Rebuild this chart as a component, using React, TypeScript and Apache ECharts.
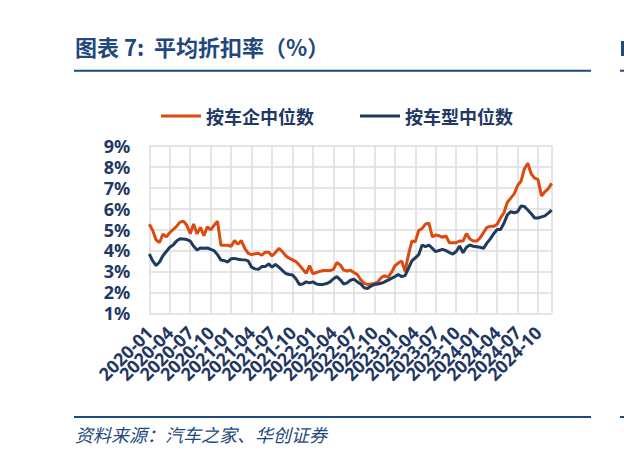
import React, { useEffect, useRef } from "react";
import * as echarts from "echarts";

const years = [2020, 2021, 2022, 2023, 2024];
const halfMonthDays = ["01", "16"];
const pointCount = 119;

const seriesNames = ["按车企中位数", "按车型中位数"];

const byMaker = [
  5.25, 4.95, 4.5, 4.38, 4.78, 4.65, 4.85, 5.0, 5.15, 5.35,
  5.4, 5.2, 4.8, 5.26, 4.8, 5.1, 4.7, 5.13, 4.98, 5.2,
  5.39, 4.25, 4.25, 4.25, 4.2, 4.47, 4.3, 4.47, 4.1, 3.86,
  3.8, 3.84, 3.86, 3.77, 3.92, 3.92, 3.74, 3.9, 4.1, 3.95,
  3.75, 3.63, 3.55, 3.47, 3.3, 3.1, 2.91, 3.28, 2.88, 2.95,
  3.0, 3.04, 3.04, 3.04, 3.1, 3.42, 3.31, 3.06, 3.02, 3.06,
  2.95, 2.85, 2.6, 2.43, 2.38, 2.4, 2.42, 2.5, 2.7, 2.8,
  2.72, 2.95, 3.26, 3.4, 3.5, 3.0, 3.8, 4.45, 4.42, 4.95,
  5.05, 5.26, 5.3, 4.65, 4.74, 4.7, 4.63, 4.69, 4.37, 4.37,
  4.37, 4.45, 4.45, 4.8, 4.55, 4.45, 4.45, 4.6, 4.85, 5.1,
  5.15, 5.15, 5.25, 5.55, 5.8, 6.3, 6.5, 6.7, 7.1, 7.3,
  7.9, 8.16, 7.65, 7.45, 7.38, 6.6, 6.8, 6.95, 7.2,
];

const byModel = [
  3.83, 3.5, 3.28, 3.45, 3.75, 3.95, 4.15, 4.26, 4.45, 4.56,
  4.55, 4.52, 4.45, 4.2, 4.02, 4.12, 4.1, 4.12, 4.05, 3.99,
  3.8, 3.54, 3.51, 3.45, 3.6, 3.62, 3.58, 3.56, 3.55, 3.5,
  3.2, 3.12, 3.1, 3.23, 3.23, 3.36, 3.2, 3.34, 3.2, 3.05,
  2.9, 2.85, 2.83, 2.65, 2.38, 2.4, 2.5, 2.45, 2.5, 2.4,
  2.38, 2.38, 2.42, 2.5, 2.65, 2.75, 2.6, 2.4, 2.45, 2.58,
  2.63, 2.5, 2.4, 2.22, 2.18, 2.3, 2.38, 2.4, 2.43, 2.5,
  2.58, 2.67, 2.75, 2.85, 2.75, 2.8, 3.15, 3.5, 3.65, 3.8,
  4.26, 4.18, 4.26, 4.1, 3.94, 4.0, 4.05, 3.99, 3.9, 3.83,
  3.95, 4.21, 3.89, 4.15, 4.26, 4.2, 4.18, 4.15, 4.1, 4.35,
  4.55, 4.8, 5.0, 5.0, 5.3, 5.7, 5.85, 5.8, 5.85, 6.12,
  6.1, 5.93, 5.75, 5.55, 5.55, 5.6, 5.65, 5.78, 5.92,
];

const categories: string[] = [];
years.forEach((y) => {
  for (let m = 1; m <= 12; m++) {
    const mm = m < 10 ? "0" + m : String(m);
    halfMonthDays.forEach((d) => categories.push(`${y}-${mm}-${d}`));
  }
});
const dates = categories.slice(0, pointCount);
const labelEvery = 6;

const titleText = "图表 7:  平均折扣率（%）";
const sourceText = "资料来源：汽车之家、华创证券";

const ORANGE = "#DC4A0F";
const NAVY = "#1F3A5F";
const LABEL = "#1F3864";
const BLUE = "#1F497D";

export default function App() {
  const ref = useRef<HTMLDivElement>(null);
  useEffect(() => {
    document.body.style.margin = "0";
    if (!ref.current) return;
    const chart = echarts.init(ref.current, null, { renderer: "svg" });
    chart.setOption({
      animation: false,
      backgroundColor: "#ffffff",
      grid: { left: 149.3, right: 72.3, top: 145.7, bottom: 139.7, containLabel: false },
      legend: {
        left: 156,
        top: 101,
        icon: "rect",
        itemWidth: 40,
        itemHeight: 3,
        itemGap: 46,
        textStyle: {
          color: LABEL,
          fontSize: 18,
          fontWeight: "bold",
          fontFamily: "Noto Sans CJK SC",
          lineHeight: 20,
        },
        data: seriesNames,
      },
      xAxis: {
        type: "category",
        boundaryGap: false,
        data: dates,
        axisLine: { show: false },
        axisTick: { show: false },
        axisLabel: {
          interval: 0,
          rotate: 45,
          margin: 16,
          color: LABEL,
          fontSize: 18,
          lineHeight: 18,
          fontWeight: "bold",
          fontFamily: "Noto Sans",
          formatter: (v: string, i: number) => (i % labelEvery === 0 ? v.slice(0, 7) : ""),
        },
        splitLine: {
          show: true,
          interval: labelEvery - 1,
          lineStyle: { color: "#DCDCDC", width: 1.5 },
        },
      },
      yAxis: {
        type: "value",
        min: 1,
        max: 9,
        interval: 1,
        axisLine: { show: false },
        axisTick: { show: false },
        axisLabel: {
          margin: 19,
          color: LABEL,
          fontSize: 18,
          lineHeight: 18,
          fontWeight: "bold",
          fontFamily: "Noto Sans",
          formatter: (v: number) => `${v}%`,
        },
        splitLine: { lineStyle: { color: "#DCDCDC", width: 1.5 } },
      },
      series: [
        {
          name: seriesNames[0],
          type: "line",
          data: byMaker,
          symbol: "none",
          itemStyle: { color: ORANGE },
          lineStyle: { color: ORANGE, width: 3 },
        },
        {
          name: seriesNames[1],
          type: "line",
          data: byModel,
          symbol: "none",
          itemStyle: { color: NAVY },
          lineStyle: { color: NAVY, width: 3 },
        },
      ],
      graphic: [
        {
          type: "text",
          left: 75,
          top: 35,
          style: {
            text: titleText,
            fill: BLUE,
            fontSize: 22,
            fontWeight: "bold",
            fontFamily: "Noto Sans CJK SC",
          },
        },
        {
          type: "rect",
          shape: { x: 621, y: 41, width: 3, height: 15 },
          style: { fill: BLUE },
        },
        {
          type: "line",
          shape: { x1: 74, y1: 70.7, x2: 591, y2: 70.7 },
          style: { stroke: BLUE, lineWidth: 2 },
        },
        {
          type: "line",
          shape: { x1: 620, y1: 70.7, x2: 624, y2: 70.7 },
          style: { stroke: BLUE, lineWidth: 2 },
        },
        {
          type: "line",
          shape: { x1: 74, y1: 417, x2: 591, y2: 417 },
          style: { stroke: BLUE, lineWidth: 2 },
        },
        {
          type: "line",
          shape: { x1: 620, y1: 417, x2: 624, y2: 417 },
          style: { stroke: BLUE, lineWidth: 2 },
        },
        {
          type: "text",
          left: 75,
          top: 425,
          style: {
            text: sourceText,
            fill: BLUE,
            fontSize: 18,
            fontStyle: "italic",
            fontFamily: "Noto Sans CJK SC",
          },
        },
      ],
    });
    return () => chart.dispose();
  }, []);
  return <div ref={ref} style={{ width: 624, height: 453 }} />;
}
